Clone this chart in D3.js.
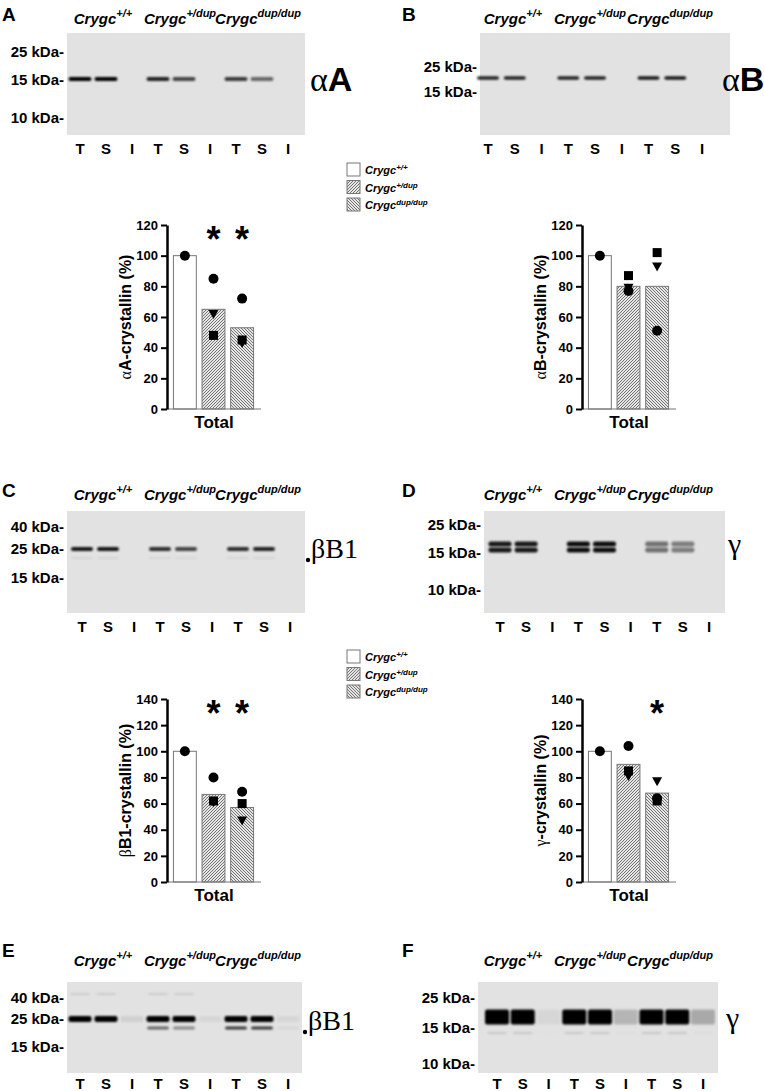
<!DOCTYPE html>
<html><head><meta charset="utf-8">
<script src="https://cdn.jsdelivr.net/npm/d3@7"></script>
<style>body{margin:0;background:#fff}svg{display:block;font-family:Arial,"Liberation Sans",sans-serif}</style>
</head><body><svg id="c" width="764" height="1091"></svg>
<script>
const groups=["Crygc+/+","Crygc+/dup","Crygc dup/dup"];
const lanes=["T","S","I","T","S","I","T","S","I"];
// bar means (%)
const meansA=[100,65,53], meansB=[100,80,80], meansC=[100,67,57], meansD=[100,90,68];
// individual points: [group, shape, value]
const ptsA=[[0,"c",100],[1,"c",85],[1,"t",62],[1,"s",48],[2,"c",72],[2,"s",45],[2,"t",43]];
const ptsB=[[0,"c",100],[1,"s",87],[1,"t",79],[1,"c",77],[2,"s",102],[2,"t",93],[2,"c",51]];
const ptsC=[[0,"c",100],[1,"c",80],[1,"s",62],[1,"t",61],[2,"c",69],[2,"s",60],[2,"t",47]];
const ptsD=[[0,"c",100],[1,"c",104],[1,"s",85],[1,"t",81],[2,"t",77],[2,"c",64],[2,"s",62]];
const starsA=[1,2], starsB=[], starsC=[1,2], starsD=[2];
const ticksA=[0,20,40,60,80,100,120], ticksC=[0,20,40,60,80,100,120,140];
// band intensities per lane
const bandA=[1,1,0,.85,.7,0,.75,.55,0];
const bandB=[.85,.85,0,.85,.85,0,.9,.9,0];
const bandC=[.9,.9,0,.8,.7,0,.8,.85,0];
const bandD=[.9,.9,0,.95,.95,0,.5,.45,0];
const bandE=[1,1,.08,1,1,.05,1,1,.05];
const bandE2=[0,0,0,.55,.4,0,.75,.75,.05];
const bandE3=[.15,.15,0,.15,.15,0,0,0,0];
const bandF=[1,1,.05,1,1,.2,1,1,.25];

const svg=d3.select("#c");
const defs=svg.append("defs");
defs.append("filter").attr("id","bl").attr("x","-50%").attr("y","-200%").attr("width","200%").attr("height","500%")
 .append("feGaussianBlur").attr("stdDeviation","1.2 0.9");
function hatch(id,dir){const p=defs.append("pattern").attr("id",id).attr("patternUnits","userSpaceOnUse").attr("width",3).attr("height",3);
 p.append("rect").attr("width",3).attr("height",3).attr("fill","#e6e6e6");
 p.append("path").attr("d",dir>0?"M-1,1 l2,-2 M0,3 l3,-3 M2,4 l2,-2":"M-1,2 l2,2 M0,0 l3,3 M2,-1 l2,2").attr("stroke","#555").attr("stroke-width",0.8);}
hatch("h1",1);hatch("h2",-1);
const fills=["#fff","url(#h1)","url(#h2)"];

function header(xs,y){
 const sups=["+/+","+/dup","dup/dup"];
 xs.forEach((x,i)=>{const t=svg.append("text").attr("x",x).attr("y",y).attr("text-anchor","middle")
  .attr("font-size",15).attr("font-weight","bold").attr("font-style","italic");
  t.append("tspan").text("Crygc");t.append("tspan").attr("dy",-7).attr("font-size",11).text(sups[i]);});
}
function blot(o){
 const {x0,x1,y0,y1,lx0,lx1,letter,kda,bands,tag,tagFont,tagSize,tagX,tagY,hdr,dot}=o;
 svg.append("text").attr("x",o.letX).attr("y",o.letY).attr("font-size",19).attr("font-weight","bold").text(letter);
 header(hdr,o.hy);
 svg.append("rect").attr("x",x0).attr("y",y0).attr("width",x1-x0).attr("height",y1-y0).attr("fill","#e2e2e2");
 const xs=d3.scalePoint().domain(d3.range(9)).range([lx0,lx1]);
 bands.forEach(b=>{
  svg.append("g").attr("filter","url(#bl)").selectAll("rect").data(b.v).join("rect")
   .attr("x",(d,i)=>xs(i)-b.w/2).attr("y",b.y-b.h/2).attr("width",b.w).attr("height",b.h).attr("rx",2)
   .attr("fill","#000").attr("opacity",d=>d);
 });
 svg.append("g").selectAll("text").data(lanes).join("text").attr("x",(d,i)=>xs(i)).attr("y",o.ty)
  .attr("text-anchor","middle").attr("font-size",15).attr("font-weight","bold").text(d=>d);
 kda.forEach(k=>svg.append("text").attr("x",x0-3).attr("y",k[1]+5).attr("text-anchor","end").attr("font-size",15).attr("font-weight","bold").text(k[0]+" kDa-"));
 const t=svg.append("text").attr("x",tagX).attr("y",tagY).attr("font-size",tagSize).attr("font-family",tagFont);
 if(Array.isArray(tag)){t.append("tspan").attr("font-family","Liberation Serif,serif").text(tag[0]);t.append("tspan").attr("font-family","Arial,sans-serif").attr("font-weight","bold").text(tag[1]);}
 else t.text(tag);
 if(dot)svg.append("circle").attr("cx",dot[0]).attr("cy",dot[1]).attr("r",2.2).attr("fill","#000");
}
function shape(g,s,x,y){
 if(s==="c")g.append("circle").attr("cx",x).attr("cy",y).attr("r",5).attr("fill","#000");
 else if(s==="s")g.append("rect").attr("x",x-4.5).attr("y",y-4.5).attr("width",9).attr("height",9).attr("fill","#000");
 else g.append("path").attr("d",`M${x-5},${y-4}L${x+5},${y-4}L${x},${y+5}Z`).attr("fill","#000");
}
function chart(o){
 const {ax,y0,yTop,max,ticks,means,pts,stars,label}=o;
 const y=d3.scaleLinear().domain([0,max]).range([y0,yTop]);
 const x=d3.scaleBand().domain([0,1,2]).range([ax+5,ax+88]).paddingInner(0.2).paddingOuter(0.05);
 const g=svg.append("g");
 g.selectAll("rect.b").data(means).join("rect").attr("x",(d,i)=>x(i)).attr("y",d=>y(d)).attr("width",x.bandwidth())
  .attr("height",d=>y0-y(d)).attr("fill",(d,i)=>fills[i]).attr("stroke","#777").attr("stroke-width",1);
 pts.forEach(p=>shape(g,p[1],x(p[0])+x.bandwidth()/2,y(p[2])));
 g.append("line").attr("x1",ax).attr("x2",ax+94).attr("y1",y0).attr("y2",y0).attr("stroke","#777").attr("stroke-width",1);
 const axg=g.append("g").attr("transform",`translate(${ax},0)`).call(d3.axisLeft(y).tickValues(ticks).tickSize(6).tickSizeOuter(0));
 axg.select(".domain").attr("stroke-width",2.5);axg.selectAll("line").attr("stroke-width",2);
 axg.selectAll("text").attr("font-size",13).attr("font-weight","bold").attr("font-family","Arial,sans-serif").attr("fill","#000");
 stars.forEach(s=>g.append("text").attr("x",x(s)+x.bandwidth()/2).attr("y",yTop+27).attr("text-anchor","middle").attr("font-size",36).attr("font-weight","bold").text("*"));
 g.append("text").attr("x",ax+47).attr("y",y0+19).attr("text-anchor","middle").attr("font-size",17).attr("font-weight","bold").text("Total");
 const yl=g.append("text").attr("transform",`translate(${ax-36},${(y0+yTop)/2}) rotate(-90)`).attr("text-anchor","middle").attr("font-size",16).attr("font-weight","bold");
 yl.append("tspan").attr("font-family","Liberation Serif,serif").attr("font-weight","normal").text(label[0]);
 yl.append("tspan").text(label[1]);
}
function legend(x,y){
 const sups=["+/+","+/dup","dup/dup"];
 [0,1,2].forEach(i=>{const yy=y+i*17.5;
  svg.append("rect").attr("x",x).attr("y",yy-7).attr("width",13).attr("height",13).attr("fill",fills[i]).attr("stroke","#777");
  const t=svg.append("text").attr("x",x+18).attr("y",yy+4).attr("font-size",11).attr("font-weight","bold").attr("font-style","italic");
  t.append("tspan").text("Crygc");t.append("tspan").attr("dy",-4).attr("font-size",8).text(sups[i]);});
}
const hL=[103,180,258], hR=[513,590,670];
blot({letter:"A",letX:2,letY:21,hy:24,hdr:hL,x0:67,x1:305,y0:33,y1:135,lx0:80,lx1:288,ty:154,
 kda:[["25",52],["15",80],["10",118]],bands:[{v:bandA,y:79,w:23,h:4}],tag:["α","A"],tagSize:34,tagX:310,tagY:91});
blot({letter:"B",letX:402,letY:21,hy:24,hdr:hR,x0:480,x1:730,y0:33,y1:135,lx0:488,lx1:702,ty:154,
 kda:[["25",67],["15",92]],bands:[{v:bandB,y:78,w:22,h:3.5}],tag:["α","B"],tagSize:34,tagX:722,tagY:91});
legend(347,170);
chart({ax:167,y0:409,yTop:225,max:120,ticks:ticksA,means:meansA,pts:ptsA,stars:starsA,label:["α","A-crystallin (%)"]});
chart({ax:582,y0:409,yTop:225,max:120,ticks:ticksA,means:meansB,pts:ptsB,stars:starsB,label:["α","B-crystallin (%)"]});
blot({letter:"C",letX:2,letY:497,hy:500,hdr:hL,x0:67,x1:305,y0:511,y1:613,lx0:82,lx1:290,ty:632,
 kda:[["40",527],["25",549],["15",578]],bands:[{v:bandC,y:549,w:22,h:4},{v:bandC.map(d=>d*0.08),y:558,w:22,h:2}],
 tag:"βB1",tagFont:"Liberation Serif,serif",tagSize:28,tagX:311,tagY:558,dot:[308,560]});
blot({letter:"D",letX:402,letY:497,hy:500,hdr:hR,x0:484,x1:725,y0:511,y1:613,lx0:500,lx1:709,ty:632,
 kda:[["25",525],["15",553],["10",590]],bands:[{v:bandD,y:544,w:23,h:5},{v:bandD,y:550,w:23,h:5}],
 tag:"γ",tagFont:"Liberation Serif,serif",tagSize:30,tagX:728,tagY:554});
legend(347,657);
chart({ax:167,y0:882,yTop:699,max:140,ticks:ticksC,means:meansC,pts:ptsC,stars:starsC,label:["β","B1-crystallin (%)"]});
chart({ax:582,y0:882,yTop:699,max:140,ticks:ticksC,means:meansD,pts:ptsD,stars:starsD,label:["γ","-crystallin (%)"]});
blot({letter:"E",letX:2,letY:957,hy:966,hdr:hL,x0:67,x1:302,y0:982,y1:1073,lx0:80,lx1:288,ty:1089,
 kda:[["40",998],["25",1019],["15",1047]],bands:[{v:bandE,y:1019,w:23,h:6},{v:bandE2,y:1028,w:22,h:3},{v:bandE3,y:994,w:20,h:1.5}],
 tag:"βB1",tagFont:"Liberation Serif,serif",tagSize:28,tagX:308,tagY:1030,dot:[305,1032]});
blot({letter:"F",letX:402,letY:957,hy:966,hdr:hR,x0:478,x1:718,y0:982,y1:1073,lx0:497,lx1:703,ty:1089,
 kda:[["25",998],["15",1028],["10",1064]],bands:[{v:bandF,y:1017,w:24,h:15},{v:bandF.map(d=>d*0.12),y:1033,w:20,h:2}],
 tag:"γ",tagFont:"Liberation Serif,serif",tagSize:30,tagX:726,tagY:1028});
</script></body></html>
